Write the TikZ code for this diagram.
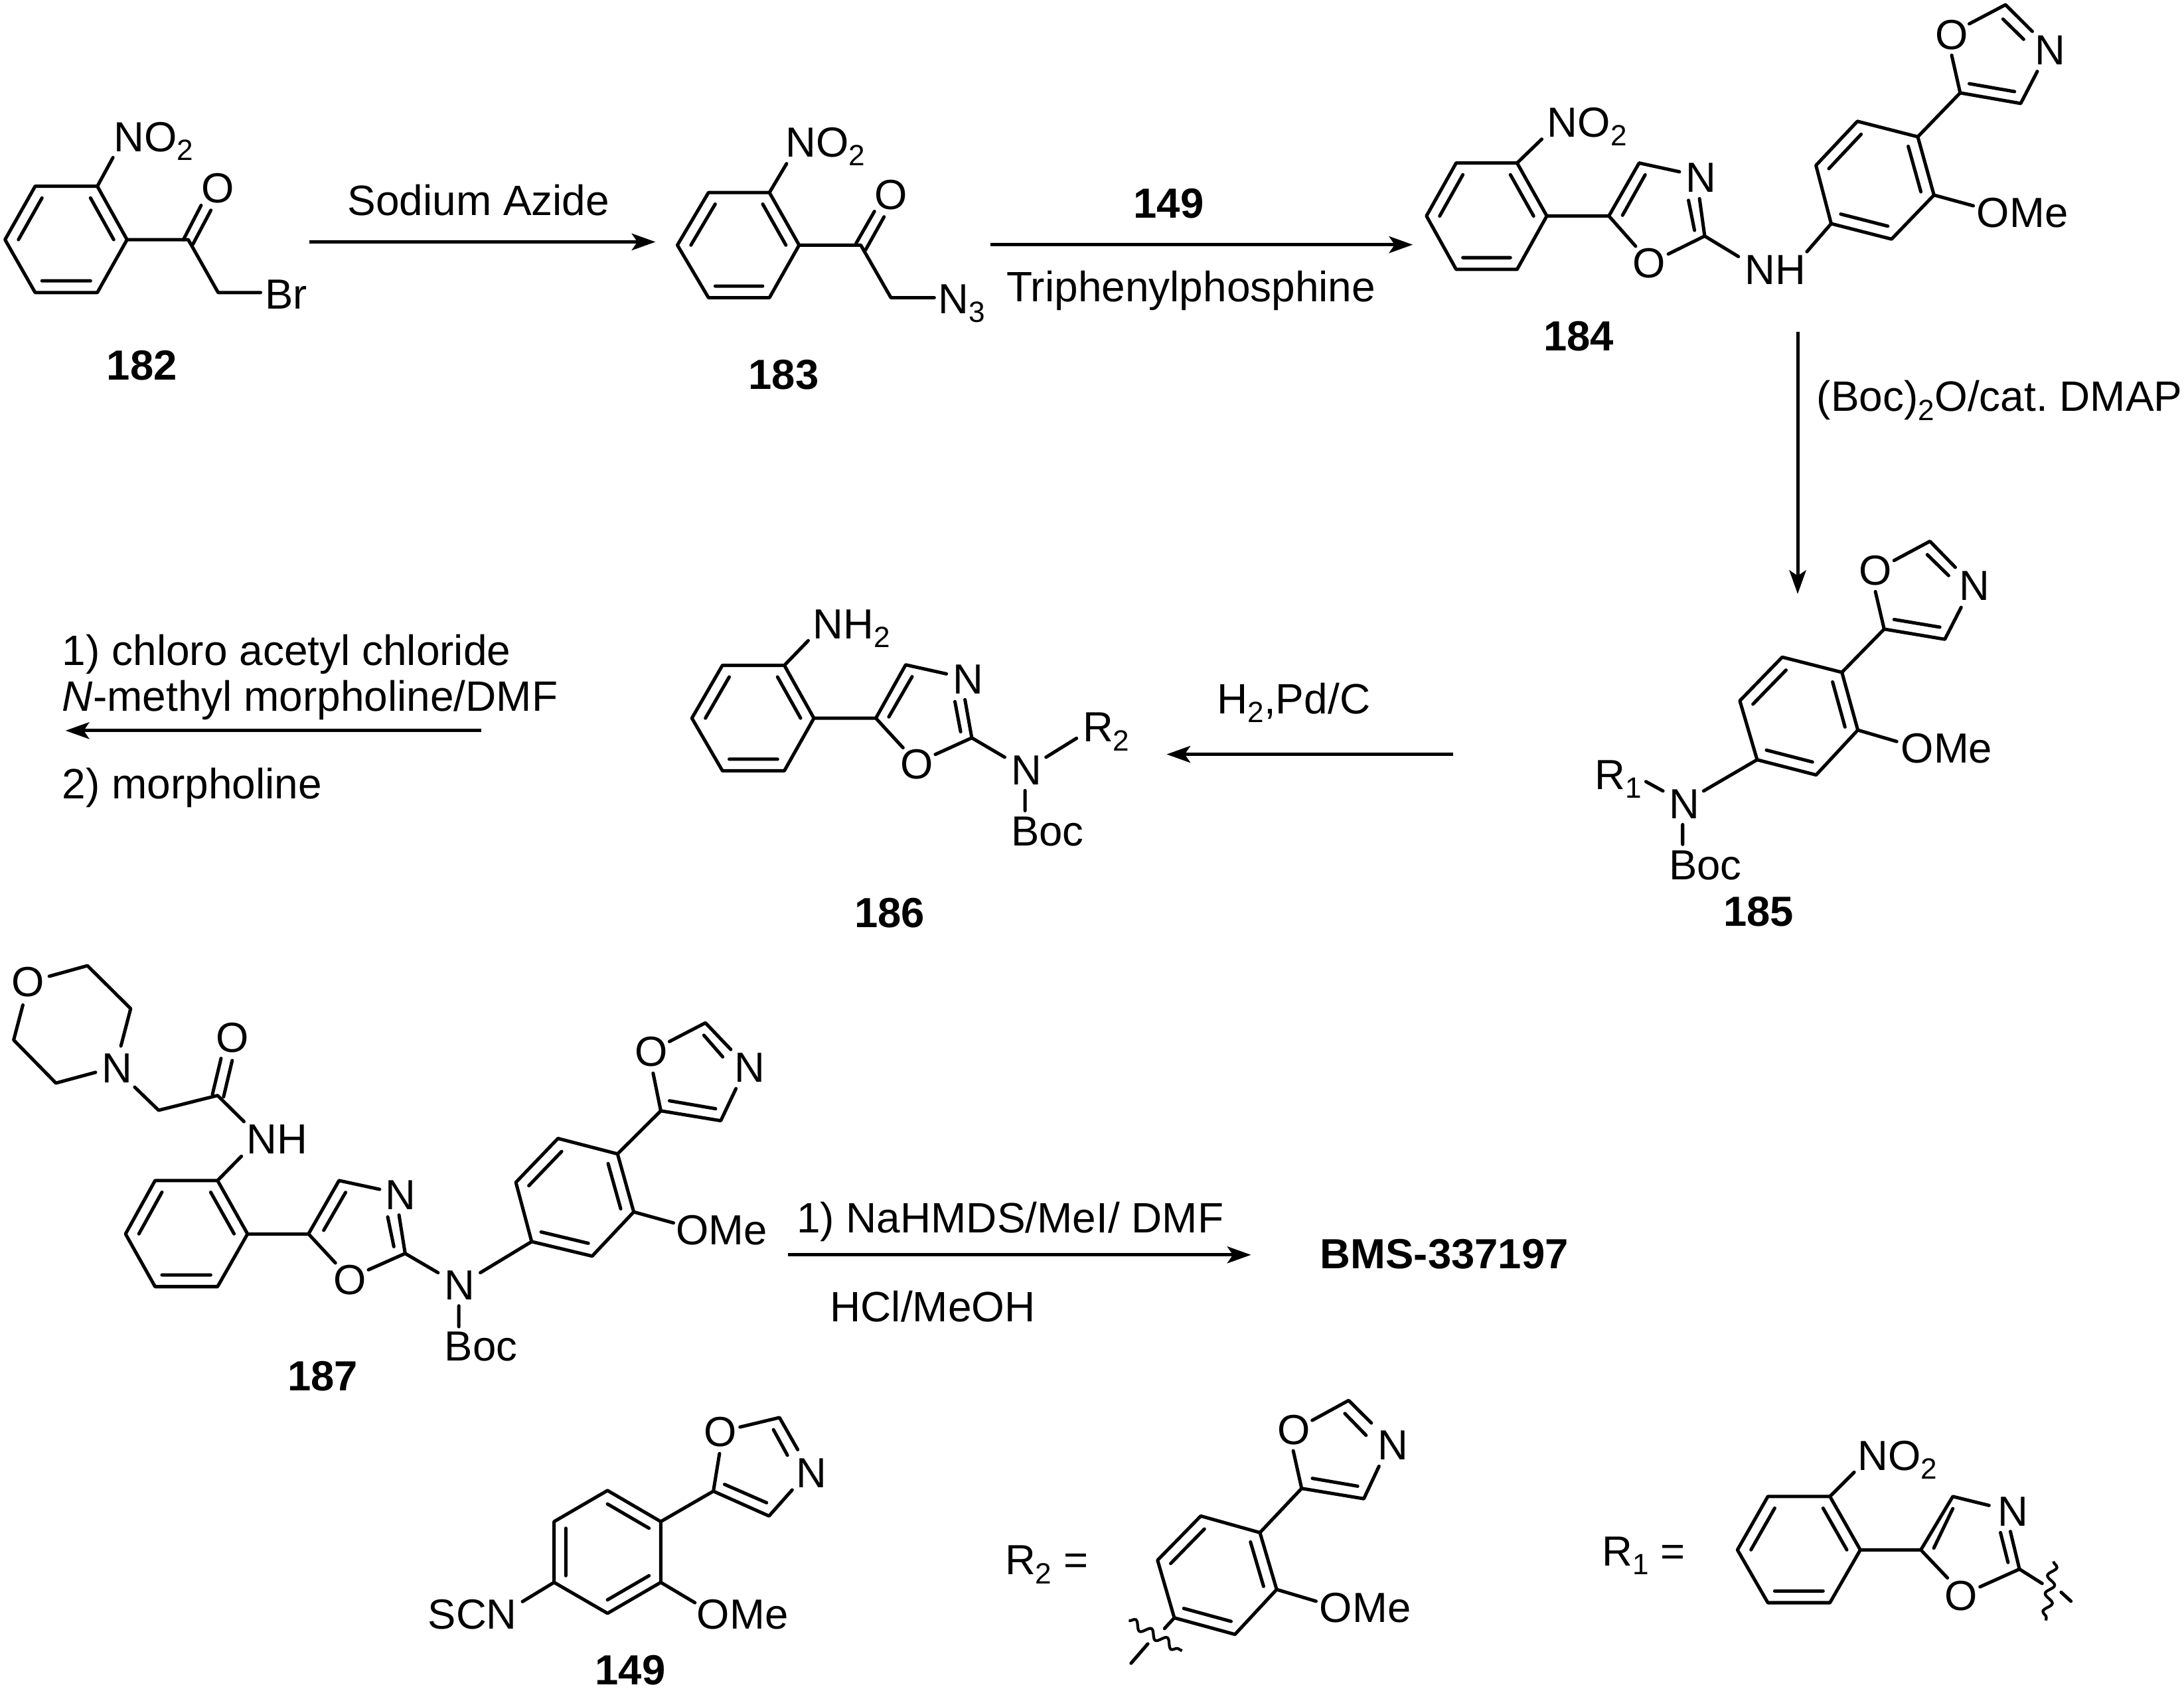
\documentclass[tikz,border=0pt]{standalone}
\usepackage{fontspec}
\setmainfont{Liberation Sans}
\frenchspacing
\usetikzlibrary{calc,arrows.meta,decorations.pathmorphing}
\tikzset{
	bond/.style={line width=2.4pt,line join=round,line cap=round},
	rxn/.style={line width=2.3pt,-{Stealth[length=17pt,width=12pt,inset=4pt]}},
	atom/.style={inner sep=0pt,anchor=base west,xshift=-2pt,font=\fontsize{30.2}{36}\selectfont},
	reagent/.style={inner sep=0pt,anchor=base west,font=\fontsize{30.45}{36}\selectfont},
	oxy/.style={inner sep=0pt,anchor=center,font=\fontsize{30.2}{36}\selectfont},
	cmpd/.style={inner sep=0pt,anchor=center,font=\fontsize{30.2}{36}\selectfont\bfseries},
	wavy/.style={line width=2pt,decorate,decoration={snake,amplitude=3pt,segment length=13pt}}
}
\newcommand{\lowered}[1]{\raisebox{-6.3pt}{\fontsize{21}{21}\selectfont #1}}
% six ring: double bonds on the edges 1-2, 3-4 and 5-6
\newcommand{\arene}[6]{
	\draw[bond] (#1) -- (#2) -- (#3) -- (#4) -- (#5) -- (#6) -- cycle;
	\coordinate (ctr) at ($(#1)!0.5!(#4)$);
	\draw[bond] ($(#1)!0.22!(ctr)$) -- ($(#2)!0.22!(ctr)$)
		($(#3)!0.22!(ctr)$) -- ($(#4)!0.22!(ctr)$)
		($(#5)!0.22!(ctr)$) -- ($(#6)!0.22!(ctr)$);
}
\begin{document}
\begin{tikzpicture}[x=1pt,y=-1pt]
	\useasboundingbox (0,0) rectangle (1566,1212.8);
	% compound numbers
	\foreach \x/\y/\t in {101.7/262/182,561.9/269/183,1132/241/184,1261/654/185,637.8/655/186,231.4/987/187,452/1198/149}
		\node (cmpd\t) [cmpd] at (\x,\y) {\t};
	\node (bms) [cmpd,anchor=base west,xshift=-1.5pt] at (948,910) {BMS-337197};
	% 182
	\arene{69.8,133.6}{91.1,171.9}{69.8,209.8}{25.2,209.8}{3.6,171.9}{25.2,133.6}
	\draw[bond] (69.8,133.6) -- (81,113) (91.1,171.9) -- (135,171.9) -- (156.4,209.8) -- (186.8,209.8);
	\draw[bond] (131.5,171.9) -- (144.2,147.3) (138.2,175.4) -- (151.2,150.8);
	\node (no182) [atom] at (83.5,108.7) {NO\lowered{2}};
	\node (o182) [oxy] at (156.4,135) {O};
	\node (br182) [atom] at (192,221.4) {Br};
	% 183
	\arene{551.7,138.1}{573,175.8}{551.7,213.5}{508,213.5}{485.7,175.8}{508,138.1}
	\draw[bond] (551.7,138.1) -- (564,117.4) (573,175.8) -- (617.2,175.8) -- (638.8,213.5) -- (669.9,213.5);
	\draw[bond] (613.8,174.6) -- (627,151.6) (620.6,179.3) -- (633.9,155.5);
	\node (no183) [atom] at (565,112.4) {NO\lowered{2}};
	\node (o183) [oxy] at (639,139.7) {O};
	\node (azide) [atom] at (674.5,225) {N\lowered{3}};
	% 184
	\arene{1087.8,116.9}{1109.1,154.9}{1087.8,193.2}{1044.1,193.2}{1022.8,154.9}{1044.1,116.9}
	\draw[bond] (1087.8,116.9) -- (1105.5,99.8) (1109.1,154.9) -- (1153.6,154.9);
	\draw[bond] (1172.8,176.6) -- (1153.6,154.9) -- (1175.3,116.9) -- (1204.2,123.2);
	\draw[bond] (1179.6,125.4) -- (1163.4,154.4) (1218.6,142.5) -- (1222.3,169.3) -- (1196.2,182.2);
	\draw[bond] (1210.7,143.7) -- (1215,165.2) (1222.3,169.3) -- (1246.5,184);
	\draw[bond] (1295.6,180.5) -- (1313,160.4);
	\arene{1313,160.4}{1356.3,171.5}{1386.7,139.9}{1375.1,98.1}{1331.8,87}{1302.1,118.6}
	\draw[bond] (1386.7,139.9) -- (1414.9,147.6) (1375.1,98.1) -- (1405.5,66.6);
	\draw[bond] (1399.4,39.6) -- (1405.5,66.6) -- (1448.9,74.2) -- (1460.8,51.2);
	\draw[bond] (1412,60) -- (1444.5,65.7) (1457.2,22.5) -- (1438,3.4) -- (1412,17.1) (1451,28.2) -- (1436.2,13.7);
	\node (no184) [atom] at (1111.3,98.1) {NO\lowered{2}};
	\node (n184a) [atom] at (1210.7,137.9) {N};
	\node (o184a) [oxy] at (1182.5,188.6) {O};
	\node (nh184) [atom] at (1253,203.9) {NH};
	\node (ome184) [atom] at (1419.2,163) {OMe};
	\node (n184b) [atom] at (1460.8,46.4) {N};
	\node (o184b) [oxy] at (1399.4,25.1) {O};
	% 185
	\arene{1259.9,544.9}{1302.2,555.8}{1332.1,523.6}{1320.7,482.2}{1277.9,471.3}{1247.5,502.6}
	\draw[bond] (1332.1,523.6) -- (1360,531.8) (1320.7,482.2) -- (1351,451.2);
	\draw[bond] (1344.7,424.3) -- (1351,451.2) -- (1394.5,458.5) -- (1406.2,435.6);
	\draw[bond] (1358.1,444.3) -- (1390.9,449.8) (1402,406.9) -- (1383.8,388.2) -- (1358.1,402) (1397.2,412.8) -- (1381.9,397.8);
	\draw[bond] (1259.9,544.9) -- (1221.5,567.3) (1206.5,591.4) -- (1206.5,605.6) (1180.2,560.6) -- (1192.4,567.3);
	\node (n185a) [atom] at (1406.7,430.6) {N};
	\node (o185) [oxy] at (1344.7,409.3) {O};
	\node (ome185) [atom] at (1364.9,547.3) {OMe};
	\node (n185b) [atom] at (1198.5,587) {N};
	\node (boc185) [atom] at (1198.5,630.7) {Boc};
	\node (r185) [atom] at (1145.5,566) {R\lowered{1}};
	% 186
	\arene{562.4,477.2}{583.6,515.1}{562.4,552.8}{518,552.8}{496.1,515.1}{518,477.2}
	\draw[bond] (562.4,477.2) -- (579.5,459.5) (583.6,515.1) -- (628,515.1);
	\draw[bond] (647.5,536.3) -- (628,515.1) -- (649.4,476.8) -- (678.6,483.3);
	\draw[bond] (654,485.3) -- (637.3,514.2) (691.9,501.8) -- (696.8,529.2) -- (670.6,541.1) (684.7,503.2) -- (688.8,524.8);
	\draw[bond] (696.8,529.2) -- (720.4,543.1) (735,567) -- (735,581.4) (750,543.1) -- (771.9,529.5);
	\node (nh186) [atom] at (584.8,458.1) {NH\lowered{2}};
	\node (n186a) [atom] at (685.1,497.7) {N};
	\node (o186) [oxy] at (657.2,548.3) {O};
	\node (n186b) [atom] at (726.9,562.7) {N};
	\node (boc186) [atom] at (726.9,606.6) {Boc};
	\node (r186) [atom] at (778.2,532.1) {R\lowered{2}};
	% 187
	\draw[bond] (35.3,700.2) -- (62.7,692.6) -- (93.7,723.4) -- (86.7,750.2);
	\draw[bond] (16.4,720.8) -- (9.8,745.9) -- (40.1,776.8) -- (68.5,769.1);
	\draw[bond] (96.6,779.7) -- (113.7,796.3) -- (156,785.7) -- (174.9,804.4);
	\draw[bond] (152.3,785) -- (158.5,759.1) (160.3,786.7) -- (166.5,760.6) (173.1,829.3) -- (156,846.7);
	\arene{156,846.7}{177.5,885}{156,922.8}{111.2,922.8}{90,885}{111.2,846.7}
	\draw[bond] (177.5,885) -- (221.2,885);
	\draw[bond] (240.5,905.8) -- (221.2,885) -- (243.1,846.7) -- (272.2,853);
	\draw[bond] (247.8,855.2) -- (232.1,882.4) (286.1,871.4) -- (290.5,899) -- (264.2,910.7) (278,872.8) -- (282.4,894.1);
	\draw[bond] (290.5,899) -- (314.1,912.8) (329,936.6) -- (329,951.5) (344.4,912.8) -- (381.2,890.5);
	\arene{381.2,890.5}{424.6,900.9}{454.4,869.2}{442.8,827.6}{400.1,816.5}{369.9,848}
	\draw[bond] (454.4,869.2) -- (482.9,877.1) (442.8,827.6) -- (473.8,796.7);
	\draw[bond] (468.3,769.7) -- (473.8,796.7) -- (516.8,803.8) -- (527.7,780.8);
	\draw[bond] (480,789.5) -- (513.1,795.2) (524,752.7) -- (505.8,733.6) -- (480,747) (518.2,758) -- (504.7,742.5);
	\node (o187a) [oxy] at (20,704.5) {O};
	\node (n187a) [atom] at (74.7,776.5) {N};
	\node (o187b) [oxy] at (166.9,744.2) {O};
	\node (nh187) [atom] at (178.6,827.6) {NH};
	\node (n187b) [atom] at (278,867.5) {N};
	\node (o187c) [oxy] at (250.7,918.1) {O};
	\node (n187c) [atom] at (320.7,932.4) {N};
	\node (boc187) [atom] at (320.7,976) {Boc};
	\node (ome187) [atom] at (486.5,892.6) {OMe};
	\node (n187d) [atom] at (528.4,776.1) {N};
	\node (o187d) [oxy] at (467.2,754.4) {O};
	% 149
	\arene{435.6,1157.1}{473.8,1134.9}{473.8,1091.3}{435.6,1069}{397.3,1091.3}{397.3,1134.9}
	\draw[bond] (397.3,1134.9) -- (374.6,1148.7) (473.8,1134.9) -- (498.3,1149.5) (473.8,1091.3) -- (511.5,1069.5);
	\draw[bond] (515.9,1042.5) -- (511.5,1069.5) -- (551.4,1087.3) -- (568,1068.6);
	\draw[bond] (519.5,1064.6) -- (549.7,1077.8) (572,1039.7) -- (558.9,1016.7) -- (530.6,1023.5) (564.6,1043.7) -- (554.6,1025.4);
	\node (scn) [atom] at (308.7,1168.3) {SCN};
	\node (ome149) [atom] at (501.5,1168.3) {OMe};
	\node (n149) [atom] at (572.7,1066.7) {N};
	\node (o149) [oxy] at (516.4,1027) {O};
	% R2
	\node (rtwo) [atom] at (722.5,1129.4) {R\lowered{2} =};
	\arene{842,1160.3}{885.5,1172.2}{915.4,1140}{903.4,1099.2}{861,1087.3}{830,1119}
	\draw[bond] (842,1160.3) -- (835,1168) (823,1179) -- (811,1192.9) (915.4,1140) -- (943.6,1148.4) (903.4,1099.2) -- (933.3,1067.5);
	\draw[bond] (927.3,1040.5) -- (933.3,1067.5) -- (977.9,1074.9) -- (988.8,1051.6);
	\draw[bond] (941,1060.3) -- (973.5,1065.9) (983.3,1020.6) -- (967,1004.4) -- (940.9,1018.7) (979.5,1029.4) -- (964.3,1013.8);
	\draw[wavy] (809.4,1162.2) -- (847.5,1184);
	\node (ometwo) [atom] at (948,1163.5) {OMe};
	\node (ntwo) [atom] at (989.8,1047.1) {N};
	\node (otwo) [oxy] at (927.9,1025.7) {O};
	% R1
	\node (rone) [atom] at (1150.7,1123) {R\lowered{1} =};
	\arene{1312.1,1073.3}{1333.9,1111.6}{1312.1,1149.5}{1267.6,1149.5}{1245.8,1111.6}{1267.6,1073.3}
	\draw[bond] (1312.1,1073.3) -- (1329.5,1055.9) (1333.9,1111.6) -- (1377.3,1111.6);
	\draw[bond] (1396.4,1131.7) -- (1377.3,1111.6) -- (1400.2,1073.3) -- (1426.2,1079.7);
	\draw[bond] (1400.2,1082) -- (1386.6,1110.3) (1441.5,1098.4) -- (1448,1125.4) -- (1419.7,1138.1) (1434.4,1099.2) -- (1439.8,1120.6);
	\draw[bond] (1448,1125.4) -- (1464.3,1135.7) (1477.9,1142) -- (1484.9,1148.4);
	\draw[wavy] (1472.4,1119.8) -- (1467,1162.2);
	\node (noone) [atom] at (1333.9,1054.3) {NO\lowered{2}};
	\node (none) [atom] at (1434.4,1094.4) {N};
	\node (oone) [oxy] at (1406.1,1144.8) {O};
	% reaction arrows
	\coordinate (s1) at (221.7,173.5);
	\coordinate (e1) at (470,173.5);
	\coordinate (s2) at (710,175.5);
	\coordinate (e2) at (1013,175.5);
	\coordinate (s3) at (1289,238);
	\coordinate (e3) at (1289,426);
	\coordinate (s4) at (1042,541);
	\coordinate (e4) at (836.5,541);
	\coordinate (s5) at (345,524);
	\coordinate (e5) at (47,524);
	\coordinate (s6) at (565,900);
	\coordinate (e6) at (897,900);
	\foreach \i in {1,...,6}
		\draw[rxn] (s\i) -- (e\i);
	\node (azd) [reagent] at (249,154.3) {Sodium Azide};
	\node (num) [cmpd] at (838,146) {149};
	\node (pph) [reagent] at (721.5,216.5) {Triphenylphosphine};
	\node (boc) [reagent] at (1302.5,295) {(Boc)\lowered{2}O/cat. DMAP};
	\node (hyd) [reagent] at (872.5,512) {H\lowered{2},Pd/C};
	\node (cl) [reagent] at (44.5,477) {1) chloro acetyl chloride};
	\node (nmm) [reagent] at (44.5,510) {\textit{N}-methyl morpholine/DMF};
	\node (mor) [reagent] at (44.5,573) {2) morpholine};
	\node (base) [reagent] at (571,884) {1) NaHMDS/MeI/ DMF};
	\node (acid) [reagent] at (595,948) {HCl/MeOH};
\end{tikzpicture}
\end{document}
